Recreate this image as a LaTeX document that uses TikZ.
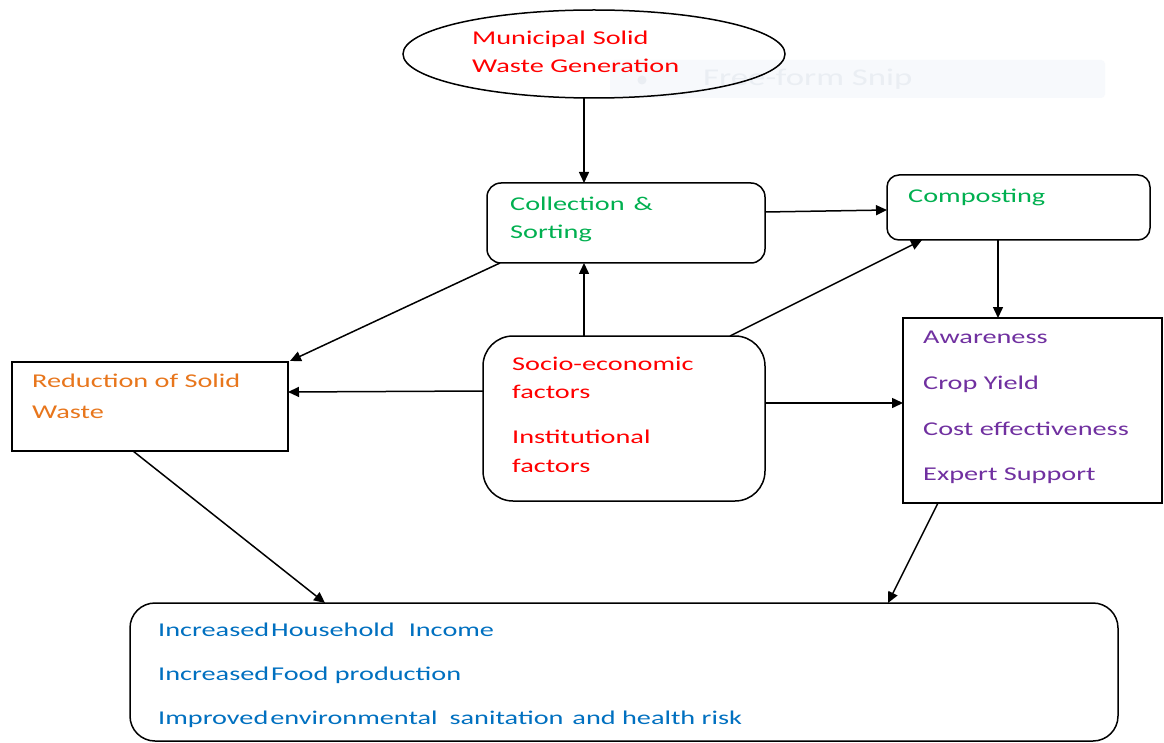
\documentclass[tikz,border=0pt]{standalone}
\usepackage{fontspec}
\setmainfont{Carlito}[FakeStretch=1.45]
\usetikzlibrary{shapes.geometric,arrows.meta,calc}
\definecolor{tred}{RGB}{255,0,0}
\definecolor{tgreen}{RGB}{0,176,80}
\definecolor{torange}{RGB}{232,118,28}
\definecolor{tpurple}{RGB}{112,48,160}
\definecolor{tblue}{RGB}{0,112,192}
\definecolor{snipfill}{RGB}{247,249,252}
\definecolor{sniptext}{RGB}{234,238,243}
\begin{document}
\begin{tikzpicture}[x=1pt,y=-1pt,
  box/.style={draw, line width=1.5pt, inner sep=0pt, outer sep=0pt},
  arr/.style={draw, line width=1.5pt, -{Triangle[length=11pt,width=10pt]}},
  lbl/.style={anchor=base west, inner sep=0pt, font=\fontsize{19.5}{23}\selectfont}]
\useasboundingbox (0,0) rectangle (1164,743);
\fill[white] (0,0) rectangle (1164,743);

% faint snipping-tool overlay (behind the drawing)
\node[fill=snipfill, minimum width=495pt, minimum height=38pt, inner sep=0pt, rounded corners=4pt] (snip) at (857.5,79) {};
\node[circle, fill=sniptext, minimum size=9pt, inner sep=0pt] (snipicon) at (642,80) {};
\node[anchor=west, inner sep=0pt, text=sniptext, font=\fontsize{24}{28}\selectfont] (sniptxt) at (703,79) {Free-form Snip};

% boxes
\node[box, ellipse, minimum width=382pt, minimum height=88pt] (msw) at (594,54) {};
\node[box, rounded corners=14pt, minimum width=278pt, minimum height=80pt] (coll) at (626,223) {};
\node[box, rounded corners=12pt, minimum width=263pt, minimum height=65pt] (comp) at (1018.5,207.5) {};
\node[box, minimum width=259pt, minimum height=185pt] (aware) at (1032.5,410.5) {};
\node[box, rounded corners=30pt, minimum width=282pt, minimum height=165pt] (socio) at (624,418.5) {};
\node[box, minimum width=276pt, minimum height=89pt] (red) at (150,406.5) {};
\node[box, rounded corners=25pt, minimum width=988pt, minimum height=138pt] (out) at (624,672) {};

% texts
\node[lbl, text=tred] (t1) at (472,45) {Municipal\hspace{7pt}Solid};
\node[lbl, text=tred] (t2) at (472,73) {Waste Generation};
\node[lbl, text=tgreen] (t3) at (510,211) {Collection\hspace{9pt}\&};
\node[lbl, text=tgreen] (t4) at (510,239) {Sorting};
\node[lbl, text=tgreen] (t5) at (908,203) {Composting};
\node[lbl, text=tpurple] (t6) at (923,343) {Awareness};
\node[lbl, text=tpurple] (t7) at (923,389) {Crop Yield};
\node[lbl, text=tpurple] (t8) at (923,435) {Cost effectiveness};
\node[lbl, text=tpurple] (t9) at (923,480) {Expert Support};
\node[lbl, text=torange] (t10) at (32,387) {Reduction of Solid};
\node[lbl, text=torange] (t11) at (32,418) {Waste};
\node[lbl, text=tred] (t12) at (512,370) {Socio-economic};
\node[lbl, text=tred] (t13) at (512,398) {factors};
\node[lbl, text=tred] (t14) at (512,443) {Institutional};
\node[lbl, text=tred] (t15) at (512,472) {factors};
\node[lbl, text=tblue] (t16) at (158,636) {Increased\hspace{2pt}Household\hspace{14pt}Income};
\node[lbl, text=tblue] (t17) at (158,680) {Increased\hspace{2pt}Food production};
\node[lbl, text=tblue] (t18) at (158,724) {Improved\hspace{2pt}environmental\hspace{12pt}sanitation\hspace{9pt}and health risk};

% connectors
\draw[arr] ([xshift=-10pt]msw.south) -- ([xshift=-42pt]coll.north);
\draw[arr] ([xshift=-40pt]socio.north) -- ([xshift=-42pt]coll.south);
\draw[arr] ([yshift=11pt]coll.east) -- ([yshift=-2.5pt]comp.west);
\draw[arr] ([xshift=-20.5pt]comp.south) -- ([xshift=-34.5pt]aware.north);
\draw[arr] ([xshift=106pt]socio.north) -- ([xshift=-96.5pt]comp.south);
\draw[arr] ([yshift=27.5pt]socio.west) -- ([yshift=14.5pt]red.east);
\draw[arr] ([yshift=15.5pt]socio.east) -- ([yshift=7.5pt]aware.west);
\draw[arr] ([xshift=13pt]coll.south west) -- ([xshift=2pt,yshift=1pt]red.north east);
\draw[arr] ([xshift=-17pt]red.south) -- ([xshift=-299pt]out.north);
\draw[arr] ([xshift=-94.5pt]aware.south) -- ([xshift=264pt]out.north);
\end{tikzpicture}
\end{document}
